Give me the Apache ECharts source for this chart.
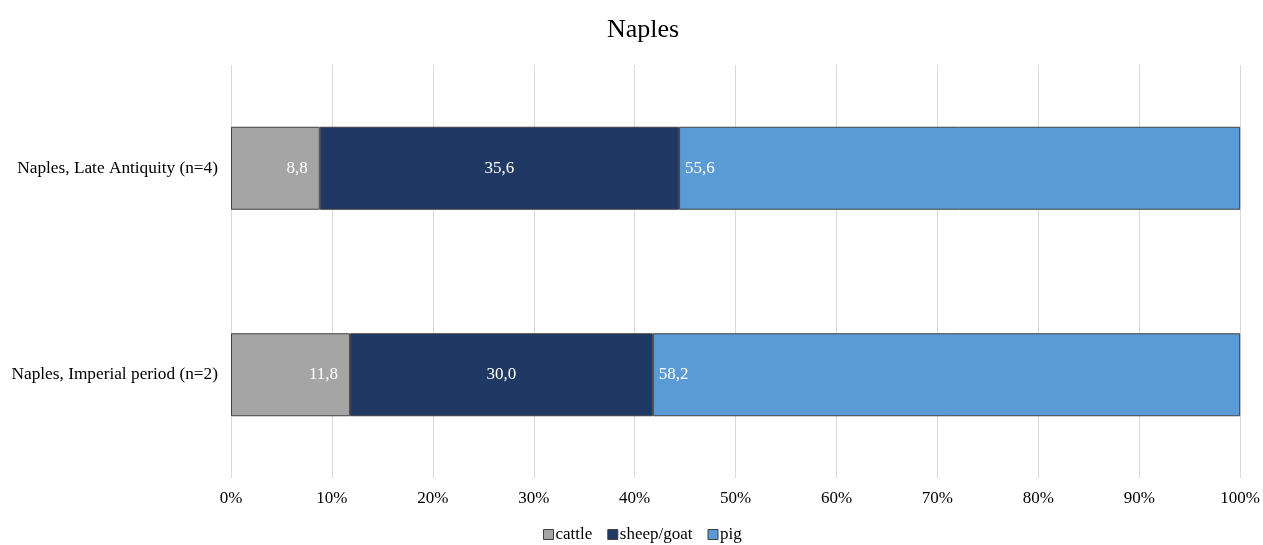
<!DOCTYPE html>
<html><head><meta charset="utf-8">
<script src="https://cdn.jsdelivr.net/npm/echarts@6/dist/echarts.min.js"></script>
<style>html,body{margin:0;padding:0;background:#fff}#c{width:1263px;height:545px}</style>
</head><body><div id="c"></div>
<script>
const categories = ['Naples, Imperial period (n=2)', 'Naples, Late Antiquity (n=4)'];
const cattle = [11.8, 8.8];
const sheepGoat = [30.0, 35.6];
const pig = [58.2, 55.6];
const seriesNames = ['cattle', 'sheep/goat', 'pig'];
const colors = ['#A5A5A5', '#203864', '#5B9BD5'];
const font = '"Liberation Serif", "Times New Roman", serif';
const fmt = p => p.value.toFixed(1).replace('.', ',');
const positions = ['insideRight', 'inside', 'insideLeft'];
const data = [cattle, sheepGoat, pig];
const chart = echarts.init(document.getElementById('c'));
chart.setOption({
  animation: false,
  textStyle: { fontFamily: font },
  title: { text: 'Naples', left: 602, top: 12, textStyle: { fontFamily: font, fontSize: 26, fontWeight: 'normal', color: '#000' } },
  legend: { top: 526, left: 543, padding: 0, itemWidth: 10, itemHeight: 10, itemGap: 15, icon: 'rect',
    textStyle: { fontFamily: font, fontSize: 17, color: '#000', padding: [0,0,0,-3] },
    data: seriesNames.map((n, i) => ({ name: n, itemStyle: { color: colors[i], borderColor: '#404040', borderWidth: 1 } })) },
  grid: { left: 231, right: 21, top: 65, bottom: 67 },
  xAxis: { type: 'value', min: 0, max: 100, interval: 10,
    axisLabel: { formatter: v => v + '%', fontFamily: font, fontSize: 17, color: '#000', margin: 12 },
    axisLine: { show: false }, axisTick: { show: false },
    splitLine: { lineStyle: { color: '#D9D9D9', width: 1 } } },
  yAxis: { type: 'category', data: categories,
    axisLine: { show: false }, axisTick: { show: false },
    axisLabel: { fontFamily: font, fontSize: 17.3, color: '#000', margin: 13 } },
  series: seriesNames.map((n, i) => ({
    name: n, type: 'bar', stack: 'a', data: data[i], barWidth: 83,
    itemStyle: { color: colors[i], borderColor: '#404040', borderWidth: 1 },
    label: { show: true, position: positions[i], distance: i === 0 ? 12 : 6, formatter: fmt,
      color: '#fff', fontFamily: font, fontSize: 17 }
  }))
});
</script></body></html>
